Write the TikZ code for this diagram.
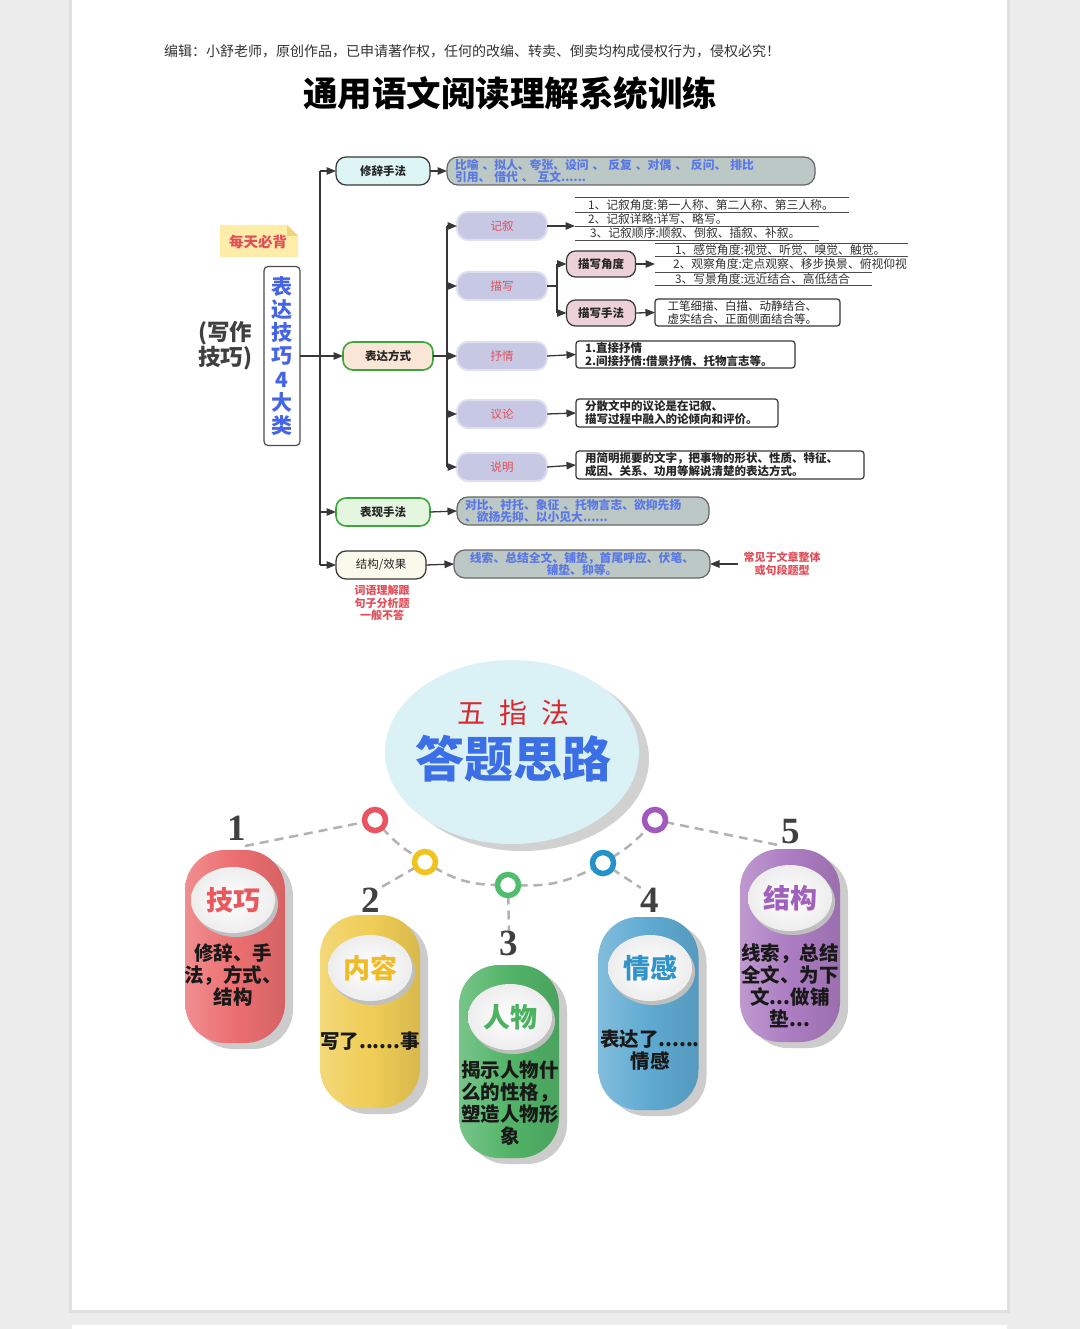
\documentclass[tikz,border=0pt]{standalone}
\usepackage{fontspec}
\setmainfont{Noto Sans CJK SC}
\newfontfamily\numfont{Liberation Serif}
\usetikzlibrary{arrows.meta,shadows,shapes.geometric}
\definecolor{pagebg}{RGB}{236,236,236}
\definecolor{lineC}{RGB}{55,55,55}
\definecolor{cyanF}{RGB}{222,245,245}
\definecolor{grayF}{RGB}{188,200,198}
\definecolor{blueT}{RGB}{90,120,228}
\definecolor{peachF}{RGB}{250,230,214}
\definecolor{greenB}{RGB}{60,165,60}
\definecolor{lavF}{RGB}{198,200,228}
\definecolor{lavB}{RGB}{222,224,240}
\definecolor{redT}{RGB}{225,80,90}
\definecolor{pinkF}{RGB}{236,210,216}
\definecolor{lgreenF}{RGB}{228,246,224}
\definecolor{creamF}{RGB}{250,250,236}
\definecolor{noteF}{RGB}{253,237,168}
\definecolor{noteD}{RGB}{236,212,130}
\definecolor{vblue}{RGB}{70,100,230}
\definecolor{bigF}{RGB}{218,241,245}
\definecolor{bigT}{RGB}{60,110,230}
\definecolor{wzT}{RGB}{215,40,45}
\definecolor{pRed}{RGB}{236,110,112}
\definecolor{pYel}{RGB}{240,205,85}
\definecolor{pGrn}{RGB}{82,180,104}
\definecolor{pBlu}{RGB}{95,170,210}
\definecolor{pPur}{RGB}{172,124,194}
\definecolor{tRed}{RGB}{232,88,92}
\definecolor{tYel}{RGB}{238,188,40}
\definecolor{tGrn}{RGB}{76,178,98}
\definecolor{tBlu}{RGB}{48,148,200}
\definecolor{tPur}{RGB}{160,96,188}
\definecolor{rRed}{RGB}{232,84,96}
\definecolor{rYel}{RGB}{240,196,30}
\definecolor{rGrn}{RGB}{80,190,110}
\definecolor{rBlu}{RGB}{36,146,200}
\definecolor{rPur}{RGB}{160,90,190}
\newcommand\fsz[2]{\fontsize{#1}{#2}\selectfont}
\pgfdeclarelayer{bg}
\pgfsetlayers{bg,main}
\begin{document}
\begin{tikzpicture}[x=1pt,y=-1pt,
  every node/.style={inner sep=0pt,outer sep=0pt},
  conn/.style={draw=lineC,line width=1.3pt},
  arr/.style={conn,-{Triangle[length=9.5pt,width=7.5pt]}},
  mbox/.style={draw=lineC,line width=1.2pt,rounded corners=10pt,minimum width=94pt,minimum height=28pt,font=\fsz{11.5}{13}\bfseries,text=black!85},
  subn/.style={draw=lavB,line width=2pt,fill=lavF,rounded corners=11pt,minimum width=90pt,minimum height=28pt,font=\fsz{11.5}{13},text=redT},
  pinkn/.style={draw=lineC,line width=1.2pt,fill=pinkF,rounded corners=9pt,minimum width=69pt,minimum height=26pt,font=\fsz{11.5}{13}\bfseries,text=black!85},
  dbox/.style={draw=lineC,line width=1.2pt,fill=white,rounded corners=3pt,font=\fsz{11.5}{13}\bfseries,text=black!85,align=left},
  gbox/.style={draw=black!60,line width=1.2pt,fill=grayF,rounded corners=11pt,minimum height=28pt,font=\fsz{11.8}{12.8}\bfseries,text=blueT},
  ltext/.style={anchor=west,font=\fsz{11.8}{12},text=black!80},
  uline/.style={draw=black!70,line width=0.9pt},
  rednote/.style={font=\fsz{11}{12.5}\bfseries,text=redT,align=center},
  pillar/.style={rounded corners=40pt,minimum width=100pt,minimum height=193pt,
    drop shadow={shadow xshift=8pt,shadow yshift=-6pt,fill=black!20,opacity=1}},
  lbl/.style={ellipse,minimum width=84pt,minimum height=66pt,inner color=white,outer color=black!7,
    drop shadow={shadow xshift=3pt,shadow yshift=-4pt,fill=black!25,opacity=1},font=\fsz{27}{30}\bfseries},
  ptxt/.style={font=\fsz{19.5}{22}\bfseries,align=center,text=black!90},
  ring/.style={circle,line width=5.5pt,fill=white,minimum size=21pt},
  num/.style={font=\numfont\fsz{37}{37}\bfseries,text=black!75},
  dashl/.style={draw=black!30,line width=2.5pt,dash pattern=on 9pt off 6pt}
]
\begin{pgfonlayer}{bg}
\fill[pagebg] (0,0) rectangle (1080,1329);
\fill[black!12] (69,0) rectangle (1010,1313);
\fill[white] (72,0) rectangle (1007,1310);
\fill[white] (72,1325) rectangle (1007,1329);
\end{pgfonlayer}
\useasboundingbox (0,0) rectangle (1080,1329);

% header and title
\node[font=\fsz{14}{15},text=black!80] (hdr) at (472,51) {编辑：小舒老师，原创作品，已申请著作权，任何的改编、转卖、倒卖均构成侵权行为，侵权必究！};
\node[font=\fsz{34.5}{36}\bfseries] (title) at (510,93) {通用语文阅读理解系统训练};

% root area
\node[font=\fsz{22.5}{23}\bfseries,text=black!75,align=center] (xz) at (225,346) {(写作\\技巧)};
\node[draw=black!70,line width=1.2pt,rounded corners=4pt,fill=white,minimum width=36pt,minimum height=179pt,
  font=\fsz{21}{23.3}\bfseries,text=vblue,align=center] (root) at (282,356) {表\\达\\技\\巧\\4\\大\\类};
\fill[noteF] (220,225) -- (287,225) -- (298,236) -- (298,257) -- (220,257) -- cycle;
\fill[noteD] (287,225) -- (287,236) -- (298,236) -- cycle;
\node[font=\fsz{14.5}{16}\bfseries,text=redT] (mtbb) at (258,242) {每天必背};

% level 1 nodes
\node[mbox,fill=cyanF] (xiuci) at (383,171) {修辞手法};
\node[mbox,fill=peachF,draw=greenB,line width=1.6pt,minimum width=90pt] (biaoda) at (388,356) {表达方式};
\node[mbox,fill=lgreenF,draw=greenB,line width=1.6pt] (biaoxian) at (383,512) {表现手法};
\node[mbox,fill=creamF,minimum width=90pt,font=\fsz{11.5}{13}] (jiegou) at (381,565) {结构/效果};

\node[gbox,minimum width=368pt,text width=352pt,align=left] (xiucibox) at (631,171)
  {比喻 、拟人、夸张、设问 、 反复 、对偶 、 反问、 排比\\引用、 借代 、 互文......};
\node[gbox,minimum width=252pt,text width=236pt,align=left] (biaoxianbox) at (583,511)
  {对比、衬托、象征 、托物言志、欲抑先扬\\、欲扬先抑、以小见大......};
\node[gbox,minimum width=256pt,align=center] (jiegoubox) at (582,564)
  {线索、总结全文、铺垫，首尾呼应、伏笔、\\铺垫、抑等。};
\node[rednote] (cjnote) at (782,564) {常见于文章整体\\或句段题型};
\node[rednote] (cynote) at (382,603) {词语理解跟\\句子分析题\\一般不答};

% trunk 1
\coordinate (tA) at (320,171);
\coordinate (tB) at (320,565);
\coordinate (tC) at (320,512);
\draw[conn] (tA) -- (tB);
\draw[arr] (tA) -- (xiuci.west);
\draw[arr] (root.east) -- (biaoda.west);
\draw[arr] (tC) -- (biaoxian.west);
\draw[arr] (tB) -- (jiegou.west);
\draw[arr] (xiuci.east) -- (xiucibox.west);
\draw[arr] (biaoxian.east) -- (biaoxianbox.west);
\draw[arr] (jiegou.east) -- (jiegoubox.west);
\draw[arr] ([xshift=-6pt]cjnote.west) -- (jiegoubox.east);

% level 2 nodes
\node[subn] (jixu) at (502,226) {记叙};
\node[subn] (miaoxie) at (502,286) {描写};
\node[subn] (shuqing) at (502,356) {抒情};
\node[subn] (yilun) at (502,414) {议论};
\node[subn] (shuoming) at (502,467) {说明};

\coordinate (sA) at (447,226);
\coordinate (sB) at (447,286);
\coordinate (sC) at (447,356);
\coordinate (sD) at (447,414);
\coordinate (sE) at (447,467);
\draw[conn] (biaoda.east) -- (sC);
\draw[conn] (sA) -- (sE);
\draw[arr] (sA) -- (jixu.west);
\draw[arr] (sB) -- (miaoxie.west);
\draw[arr] (sC) -- (shuqing.west);
\draw[arr] (sD) -- (yilun.west);
\draw[arr] (sE) -- (shuoming.west);

% jixu list
\coordinate (jx) at (575,226);
\draw[arr] (jixu.east) -- (jx);
\draw[uline] (575,197) -- (849,197);
\draw[uline] (575,212) -- (849,212);
\draw[uline] (575,226) -- (819,226);
\draw[uline] (575,240) -- (819,240);
\node[ltext] (jx1) at (588,205) {1、记叙角度:第一人称、第二人称、第三人称。};
\node[ltext] (jx2) at (588,219) {2、记叙详略:详写、略写。};
\node[ltext] (jx3) at (590,233) {3、记叙顺序:顺叙、倒叙、插叙、补叙。};

% miaoxie
\node[pinkn] (jiaodu) at (601,264) {描写角度};
\node[pinkn] (shoufa) at (601,313) {描写手法};
\coordinate (mA) at (557,286);
\coordinate (mB) at (557,264);
\coordinate (mC) at (557,313);
\draw[conn] (miaoxie.east) -- (mA);
\draw[conn] (mB) -- (mC);
\draw[arr] (mB) -- (jiaodu.west);
\draw[arr] (mC) -- (shoufa.west);
\coordinate (jd) at (655,264);
\draw[arr] (jiaodu.east) -- (jd);
\draw[uline] (655,243) -- (908,243);
\draw[uline] (655,256) -- (908,256);
\draw[uline] (655,272) -- (872,272);
\draw[uline] (655,285) -- (872,285);
\node[ltext] (jd1) at (675,250) {1、感觉角度:视觉、听觉、嗅觉、触觉。};
\node[ltext] (jd2) at (673,264) {2、观察角度:定点观察、移步换景、俯视仰视};
\node[ltext] (jd3) at (675,279) {3、写景角度:远近结合、高低结合};
\node[dbox,font=\fsz{11.5}{12.5},minimum width=185pt,minimum height=27pt,text width=160pt] (shoufabox) at (747.5,312.5)
  {工笔细描、白描、动静结合、\\虚实结合、正面侧面结合等。};
\draw[arr] (shoufa.east) -- (shoufabox.west);

% other boxes
\node[dbox,minimum width=219pt,minimum height=27pt,text width=201pt] (shuqingbox) at (685.5,354.5)
  {1.直接抒情\\2.间接抒情:借景抒情、托物言志等。};
\node[dbox,minimum width=202pt,minimum height=28pt,text width=184pt] (yilunbox) at (677,413)
  {分散文中的议论是在记叙、\\描写过程中融入的论倾向和评价。};
\node[dbox,minimum width=288pt,minimum height=28pt,text width=270pt] (shuomingbox) at (720,465)
  {用简明扼要的文字，把事物的形状、性质、特征、\\成因、关系、功用等解说清楚的表达方式。};
\draw[arr] (shuqing.east) -- (shuqingbox.west);
\draw[arr] (yilun.east) -- (yilunbox.west);
\draw[arr] (shuoming.east) -- (shuomingbox.west);

% ===== bottom part =====
\node[ellipse,minimum width=254pt,minimum height=184pt,fill=bigF,
  drop shadow={shadow xshift=10pt,shadow yshift=-7pt,fill=black!18,opacity=1}] (big) at (512,752) {};
\node[font=\fsz{28}{30},text=wzT] (wzf) at (513,713) {五\hspace{0.5em}指\hspace{0.5em}法};
\node[font=\fsz{49}{52}\bfseries,text=bigT] (dtsl) at (513,759) {答题思路};

\node[ring,draw=rRed] (r1) at (375,820) {};
\node[ring,draw=rYel] (r2) at (425,862) {};
\node[ring,draw=rGrn] (r3) at (508,885) {};
\node[ring,draw=rBlu] (r4) at (603,863) {};
\node[ring,draw=rPur] (r5) at (655,820) {};

\node[num] (n1) at (237,828) {1};
\node[num] (n2) at (371,900) {2};
\node[num] (n3) at (509,943) {3};
\node[num] (n4) at (650,900) {4};
\node[num] (n5) at (791,832) {5};
\coordinate (c1) at (245,846);
\coordinate (c5) at (783,846);

\begin{pgfonlayer}{bg}
\draw[dashl] (c1) -- (r1);
\draw[dashl] (r1) to[bend right=8] (r2);
\draw[dashl] (r2) to[bend right=15] (r3);
\draw[dashl] (r3) to[bend right=15] (r4);
\draw[dashl] (r4) to[bend right=8] (r5);
\draw[dashl] (r5) -- (c5);
\draw[dashl] (r2) -- (n2.north east);
\draw[dashl] (r3) -- (n3.north);
\draw[dashl] (r4) -- (n4.north west);
\end{pgfonlayer}

% pillars
\node[pillar,left color=pRed!78!white,right color=pRed!90!black,middle color=pRed] (p1) at (235,946.5) {};
\node[pillar,left color=pYel!78!white,right color=pYel!90!black,middle color=pYel] (p2) at (370,1011.5) {};
\node[pillar,left color=pGrn!78!white,right color=pGrn!90!black,middle color=pGrn] (p3) at (509,1061.5) {};
\node[pillar,left color=pBlu!78!white,right color=pBlu!90!black,middle color=pBlu] (p4) at (648.5,1013.5) {};
\node[pillar,left color=pPur!78!white,right color=pPur!90!black,middle color=pPur] (p5) at (790,945.5) {};

\node[lbl,text=tRed] (e1) at (233,900) {技巧};
\node[lbl,text=tYel] (e2) at (370,968) {内容};
\node[lbl,text=tGrn] (e3) at (510,1017) {人物};
\node[lbl,text=tBlu] (e4) at (650,968) {情感};
\node[lbl,text=tPur] (e5) at (790,898) {结构};

\node[ptxt] (t1) at (233,975) {修辞、手\\法，方式、\\结构};
\node[ptxt] (t2) at (370,1041) {写了......事};
\node[ptxt] (t3) at (510,1103) {揭示人物什\\么的性格，\\塑造人物形\\象};
\node[ptxt] (t4) at (650,1050.5) {表达了......\\情感};
\node[ptxt] (t5) at (790,986) {线索，总结\\全文、为下\\文...做铺\\垫...};
\end{tikzpicture}
\end{document}
